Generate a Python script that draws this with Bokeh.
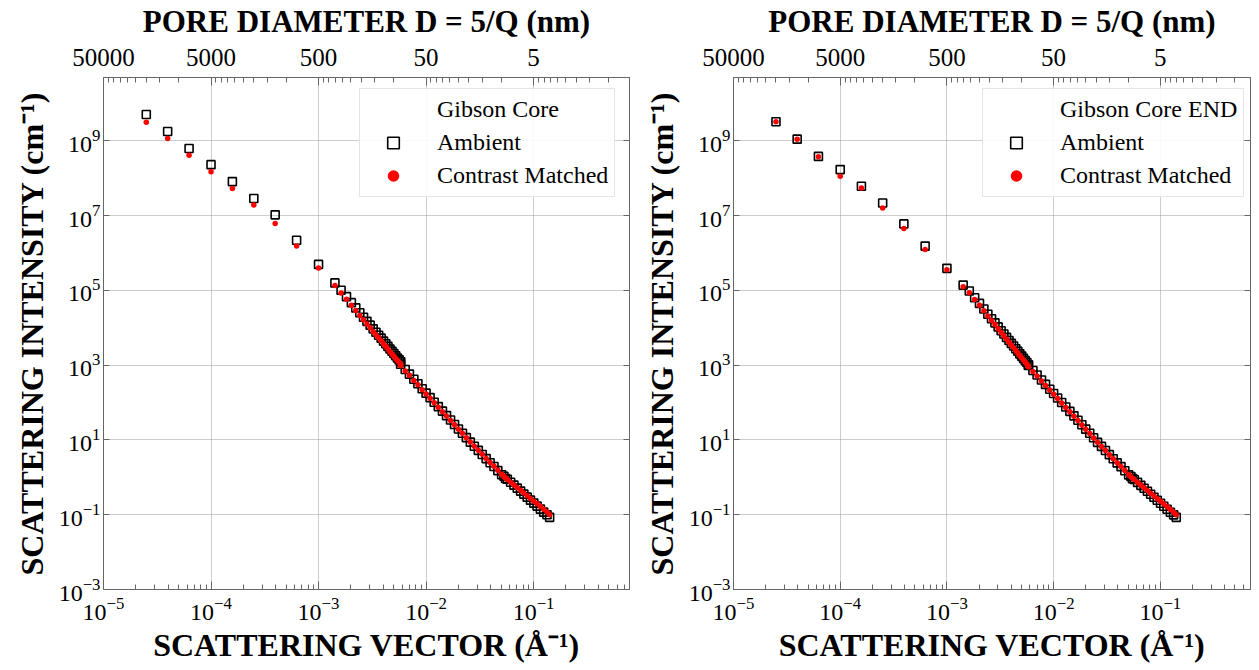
from bokeh.plotting import figure
from bokeh.layouts import row
from bokeh.models import (LogAxis, FixedTicker, CustomJSTickFormatter, Legend,
                          LegendItem, Range1d, ColumnDataSource)
from bokeh.embed import file_html
from bokeh.resources import INLINE

# ---------------- data ----------------
Q_USANS = [2.5e-5, 3.95e-5, 6.25e-5, 1.0e-4, 1.58e-4, 2.5e-4, 3.95e-4, 6.25e-4, 1.0e-3]

Q_SANS = [1.42e-3, 1.62e-3, 1.82e-3, 2.02e-3, 2.22e-3, 2.42e-3, 2.62e-3, 2.82e-3,
          3.02e-3, 3.22e-3, 3.42e-3, 3.62e-3, 3.82e-3, 4.02e-3, 4.22e-3, 4.42e-3,
          4.62e-3, 4.82e-3, 5.02e-3, 5.22e-3, 5.42e-3, 5.62e-3, 5.82e-3,
          0.0058, 0.0064, 0.0070, 0.0077, 0.0084, 0.0092, 0.0100, 0.0109, 0.0119,
          0.0130, 0.0142, 0.0155, 0.0169, 0.0184, 0.0200, 0.0218, 0.0237, 0.0258,
          0.0281, 0.0306, 0.0333, 0.0362, 0.0394, 0.0428, 0.0465, 0.0505, 0.0548,
          0.0530, 0.0570, 0.0612, 0.0657, 0.0705, 0.0757, 0.0812, 0.0872, 0.0936,
          0.1005, 0.1078, 0.1157, 0.1242, 0.1333, 0.1410]

# Left panel: Gibson Core
L_AMB_USANS = [5.0e9, 1.77e9, 6.2e8, 2.29e8, 8.07e7, 2.84e7, 1.04e7, 2.19e6, 4.93e5]
L_CM_USANS = [3.13e9, 1.15e9, 4.06e8, 1.49e8, 5.25e7, 1.92e7, 6.12e6, 1.52e6, 3.93e5]
L_AMB_SANS = [1.58e5, 1.0e5, 6.76e4, 4.68e4, 3.39e4, 2.51e4, 1.91e4, 1.48e4, 1.17e4,
              9.33e3, 7.59e3, 6.31e3, 5.25e3, 4.37e3, 3.72e3, 3.16e3, 2.69e3, 2.34e3,
              2.04e3, 1.78e3, 1.55e3, 1.38e3, 1.23e3,
              1.05e3, 7.6e2, 5.75e2, 4.17e2, 3.16e2, 2.34e2, 1.78e2, 1.35e2, 1.02e2,
              77.6, 58.9, 44.7, 33.9, 25.7, 19.5, 15.1, 11.5, 8.71, 6.76, 5.25, 4.07,
              3.16, 2.45, 1.95, 1.51, 1.17, 0.93,
              1.07, 0.89, 0.74, 0.617, 0.513, 0.427, 0.355, 0.295, 0.245, 0.204,
              0.170, 0.141, 0.117, 0.100, 0.085]
L_CM_SANS = [1.34e5, 8.5e4, 5.75e4, 3.98e4, 2.88e4, 2.13e4, 1.62e4, 1.26e4, 9.9e3,
             7.9e3, 6.45e3, 5.35e3, 4.45e3, 3.7e3, 3.16e3, 2.69e3, 2.29e3, 1.99e3,
             1.73e3, 1.51e3, 1.32e3, 1.17e3, 1.05e3,
             9.6e2, 7.0e2, 5.35e2, 3.9e2, 2.97e2, 2.2e2, 1.69e2, 1.29e2, 98.0,
             75.0, 57.0, 43.5, 33.2, 25.3, 19.3, 15.0, 11.5, 8.75, 6.8, 5.3, 4.12,
             3.2, 2.5, 1.99, 1.55, 1.2, 0.96,
             1.05, 0.88, 0.74, 0.625, 0.53, 0.45, 0.38, 0.32, 0.27, 0.23,
             0.195, 0.165, 0.14, 0.118, 0.10]

# Right panel: Gibson Core END
R_AMB_USANS = [3.21e9, 1.10e9, 3.81e8, 1.69e8, 6.04e7, 2.17e7, 5.97e6, 1.52e6, 3.86e5]
R_CM_USANS = [3.21e9, 1.10e9, 3.74e8, 1.12e8, 5.45e7, 1.6e7, 4.5e6, 1.24e6, 3.54e5]
R_AMB_SANS = [1.38e5, 9.55e4, 6.31e4, 4.47e4, 3.16e4, 2.29e4, 1.74e4, 1.35e4, 1.05e4,
              8.32e3, 6.76e3, 5.5e3, 4.57e3, 3.8e3, 3.24e3, 2.75e3, 2.34e3, 2.0e3,
              1.74e3, 1.51e3, 1.32e3, 1.17e3, 1.02e3,
              9.8e2, 7.2e2, 5.45e2, 4.0e2, 3.05e2, 2.27e2, 1.74e2, 1.32e2, 1.0e2,
              76.0, 58.0, 44.0, 33.5, 25.5, 19.4, 15.0, 11.4, 8.6, 6.7, 5.2, 4.03,
              3.13, 2.43, 1.93, 1.5, 1.16, 0.92,
              1.05, 0.87, 0.73, 0.61, 0.51, 0.425, 0.353, 0.293, 0.243, 0.202,
              0.168, 0.14, 0.116, 0.099, 0.085]
R_CM_SANS = [1.24e5, 8.6e4, 5.7e4, 4.0e4, 2.85e4, 2.06e4, 1.56e4, 1.21e4, 9.45e3,
             7.5e3, 6.1e3, 4.95e3, 4.1e3, 3.4e3, 2.9e3, 2.45e3, 2.1e3, 1.8e3,
             1.56e3, 1.36e3, 1.19e3, 1.05e3, 9.2e2,
             9.1e2, 6.75e2, 5.1e2, 3.75e2, 2.87e2, 2.15e2, 1.66e2, 1.27e2, 97.0,
             74.0, 56.5, 43.0, 33.0, 25.2, 19.2, 14.9, 11.3, 8.6, 6.7, 5.2, 4.03,
             3.13, 2.45, 1.94, 1.52, 1.18, 0.94,
             1.04, 0.87, 0.73, 0.62, 0.525, 0.445, 0.375, 0.317, 0.268, 0.228,
             0.193, 0.163, 0.138, 0.117, 0.099]

X_MAJOR = [1e-5, 1e-4, 1e-3, 1e-2, 1e-1]
Y_MAJOR = [1e-3, 1e-1, 1e1, 1e3, 1e5, 1e7, 1e9]
TOP_LABELS = ["50000", "5000", "500", "50", "5"]
SERIES_LABELS = ["Ambient", "Contrast Matched"]

X_MINOR = [m * k for m in X_MAJOR + [1.0] for k in range(2, 10)]
TOP_MINOR = [m * 10 / k for m in X_MAJOR for k in range(2, 10)]

FONT = "Liberation Serif"
AX_COL = "#666666"


def style_axis(ax, tick_in=8, label_size="32px"):
    ax.axis_label_text_font = FONT
    ax.axis_label_text_font_style = "bold"
    ax.axis_label_text_font_size = label_size
    ax.axis_label_text_color = "black"
    ax.major_label_text_font = FONT
    ax.major_label_text_font_size = "24px"
    ax.major_label_text_color = "black"
    ax.axis_line_color = AX_COL
    ax.major_tick_line_color = AX_COL
    ax.minor_tick_line_color = AX_COL
    ax.major_tick_in = tick_in
    ax.major_tick_out = 0
    ax.minor_tick_in = 5
    ax.minor_tick_out = 0


def make_panel(title, amb_u, cm_u, amb_s, cm_s, x_end, width, bl, br, leg_x):
    p = figure(width=width, height=668, x_axis_type="log", y_axis_type="log",
               x_range=Range1d(1e-5, x_end), y_range=Range1d(1e-3, 4.9e10),
               output_backend="svg", toolbar_location=None,
               min_border_left=bl, min_border_right=br,
               min_border_top=76, min_border_bottom=79,
               x_axis_label="SCATTERING VECTOR (Å⁻¹)",
               y_axis_label="SCATTERING INTENSITY (cm⁻¹)")
    p.outline_line_color = AX_COL
    p.background_fill_color = "white"
    p.border_fill_color = "white"

    p.xaxis[0].ticker = FixedTicker(ticks=X_MAJOR, minor_ticks=X_MINOR)
    p.yaxis[0].ticker = FixedTicker(ticks=Y_MAJOR, minor_ticks=[])
    style_axis(p.xaxis[0], 8)
    style_axis(p.yaxis[0], 6)
    p.xaxis[0].major_label_standoff = 8
    p.xaxis[0].axis_label_standoff = 4
    p.yaxis[0].major_label_standoff = 3
    p.yaxis[0].axis_label_standoff = 6

    for g in (p.xgrid[0], p.ygrid[0]):
        g.grid_line_color = "#9a9a9a"
        g.grid_line_dash = "1 1"
        g.grid_line_width = 1

    top = LogAxis(
        ticker=FixedTicker(ticks=X_MAJOR, minor_ticks=TOP_MINOR),
        formatter=CustomJSTickFormatter(
            args=dict(MAJ=X_MAJOR, LBL=TOP_LABELS),
            code="""
            for (let i = 0; i < MAJ.length; i++) {
              if (Math.abs(Math.log10(tick) - Math.log10(MAJ[i])) < 1e-6) return LBL[i];
            }
            return "";
            """),
        axis_label="PORE DIAMETER D = 5/Q (nm)")
    style_axis(top, 8, "31px")
    top.major_label_text_font_size = "25px"
    top.major_label_standoff = 12
    top.axis_label_standoff = 7
    p.add_layout(top, "above")

    right = LogAxis(ticker=FixedTicker(ticks=Y_MAJOR, minor_ticks=[]),
                    formatter=CustomJSTickFormatter(code="return ''"))
    style_axis(right, 6)
    right.major_label_text_font_size = "1px"
    right.major_label_standoff = 0
    p.add_layout(right, "right")

    src_t = ColumnDataSource(data=dict(x=[], y=[]))
    r_t = p.scatter("x", "y", source=src_t, size=1, fill_alpha=0, line_alpha=0)
    r_a = p.scatter(Q_USANS + Q_SANS, amb_u + amb_s, marker="square", size=8,
                    fill_color=None, line_color="black", line_width=1.6)
    r_c = p.scatter(Q_USANS + Q_SANS, cm_u + cm_s, marker="circle", size=5.5,
                    fill_color="red", line_color=None)

    legend = Legend(items=[LegendItem(label=title, renderers=[r_t]),
                           LegendItem(label=SERIES_LABELS[0], renderers=[r_a]),
                           LegendItem(label=SERIES_LABELS[1], renderers=[r_c])],
                    location=(leg_x, 392), margin=0)
    legend.label_text_font = FONT
    legend.label_text_font_size = "24px"
    legend.label_text_color = "black"
    legend.border_line_color = "#cccccc"
    legend.border_line_width = 1
    legend.background_fill_color = "white"
    legend.background_fill_alpha = 0.9
    legend.glyph_width = 54
    legend.glyph_height = 29
    legend.label_height = 29
    legend.label_standoff = 17
    legend.padding = 6
    legend.spacing = 4
    p.add_layout(legend)
    return p


p1 = make_panel("Gibson Core", L_AMB_USANS, L_CM_USANS, L_AMB_SANS, L_CM_SANS,
                0.78, 640, 103, 11, 256)
p2 = make_panel("Gibson Core END", R_AMB_USANS, R_CM_USANS, R_AMB_SANS, R_CM_SANS,
                0.70, 619, 92, 9, 249)

layout = row(p1, p2)
open("out.html", "w").write(file_html(layout, INLINE))
